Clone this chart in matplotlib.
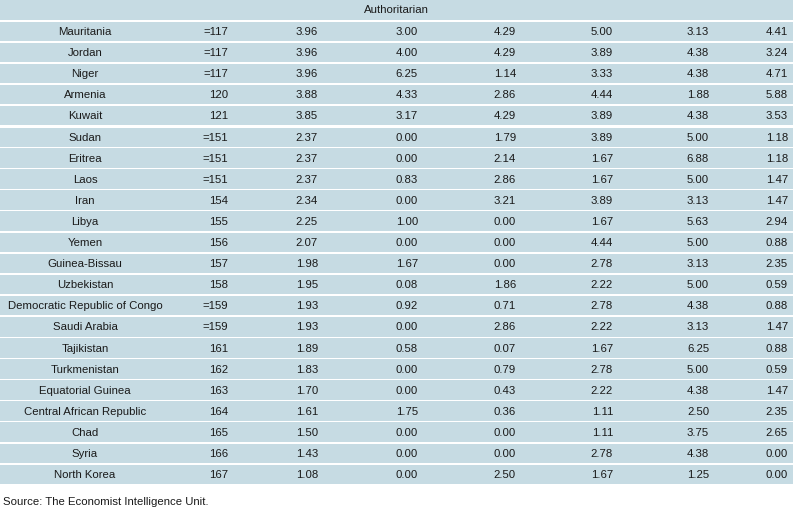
import matplotlib.pyplot as plt
from matplotlib.patches import Rectangle

countries = ["Mauritania", "Jordan", "Niger", "Armenia", "Kuwait", "Sudan", "Eritrea", "Laos",
             "Iran", "Libya", "Yemen", "Guinea-Bissau", "Uzbekistan", "Democratic Republic of Congo",
             "Saudi Arabia", "Tajikistan", "Turkmenistan", "Equatorial Guinea",
             "Central African Republic", "Chad", "Syria", "North Korea"]
ranks = ["=117", "=117", "=117", "120", "121", "=151", "=151", "=151", "154", "155", "156", "157",
         "158", "=159", "=159", "161", "162", "163", "164", "165", "166", "167"]
overall = [3.96, 3.96, 3.96, 3.88, 3.85, 2.37, 2.37, 2.37, 2.34, 2.25, 2.07, 1.98, 1.95, 1.93,
           1.93, 1.89, 1.83, 1.70, 1.61, 1.50, 1.43, 1.08]
electoral = [3.00, 4.00, 6.25, 4.33, 3.17, 0.00, 0.00, 0.83, 0.00, 1.00, 0.00, 1.67, 0.08, 0.92,
             0.00, 0.58, 0.00, 0.00, 1.75, 0.00, 0.00, 0.00]
government = [4.29, 4.29, 1.14, 2.86, 4.29, 1.79, 2.14, 2.86, 3.21, 0.00, 0.00, 0.00, 1.86, 0.71,
              2.86, 0.07, 0.79, 0.43, 0.36, 0.00, 0.00, 2.50]
participation = [5.00, 3.89, 3.33, 4.44, 3.89, 3.89, 1.67, 1.67, 3.89, 1.67, 4.44, 2.78, 2.22,
                 2.78, 2.22, 1.67, 2.78, 2.22, 1.11, 1.11, 2.78, 1.67]
culture = [3.13, 4.38, 4.38, 1.88, 4.38, 5.00, 6.88, 5.00, 3.13, 5.63, 5.00, 3.13, 5.00, 4.38,
           3.13, 6.25, 5.00, 4.38, 2.50, 3.75, 4.38, 1.25]
liberties = [4.41, 3.24, 4.71, 5.88, 3.53, 1.18, 1.18, 1.47, 1.47, 2.94, 0.88, 2.35, 0.59, 0.88,
             1.47, 0.88, 0.59, 1.47, 2.35, 2.65, 0.00, 0.00]

W, H = 793, 517
bg = "#c6dbe3"
fig = plt.figure(figsize=(W / 100, H / 100), dpi=100)
ax = fig.add_axes([0, 0, 1, 1])
ax.set_xlim(0, W)
ax.set_ylim(H, 0)
ax.axis("off")

font = dict(fontsize=8.2, color="#1a1a1a", family="Liberation Sans")
row_h = 21.1
top = 0
ax.add_patch(Rectangle((0, top), W, 19.5, color=bg, lw=0))
ax.text(W / 2, top + 10, "Authoritarian", ha="center", va="center", **font)

num_x = [318, 418, 516, 613, 709, 788]
y0 = 21.5
for i, name in enumerate(countries):
    y = y0 + i * row_h
    gap = 2.5 if i == 5 else 1.5
    ax.add_patch(Rectangle((0, y + (1 if i == 5 else 0)), W, row_h - gap, color=bg, lw=0))
    cy = y + row_h / 2
    ax.text(85, cy, name, ha="center", va="center", **font)
    ax.text(228, cy, ranks[i], ha="right", va="center", **font)
    vals = [overall[i], electoral[i], government[i], participation[i], culture[i], liberties[i]]
    for x, v in zip(num_x, vals):
        ax.text(x, cy, f"{v:.2f}", ha="right", va="center", **font)

ax.text(3, 502, "Source: The Economist Intelligence Unit.", ha="left", va="center", **font)
fig.savefig("out.png", dpi=100)
